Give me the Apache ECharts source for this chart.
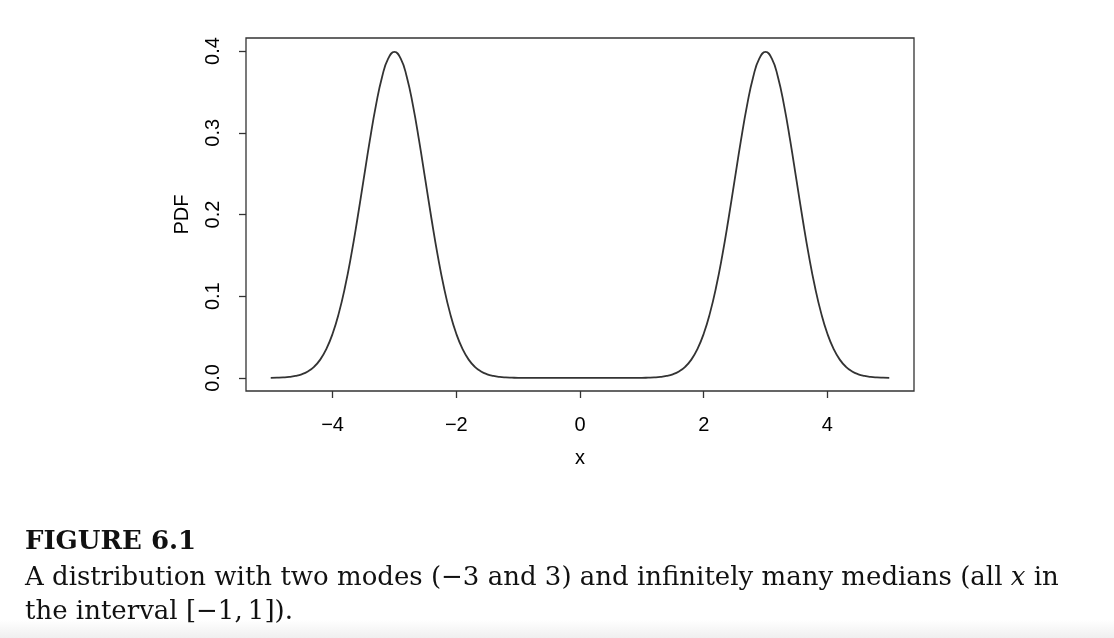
<!DOCTYPE html>
<html>
<head>
<meta charset="utf-8">
<script src="https://cdn.jsdelivr.net/npm/echarts@6/dist/echarts.min.js"></script>
<style>
  html, body { margin: 0; padding: 0; background: #ffffff; }
  #chart { width: 1114px; height: 638px; }
</style>
</head>
<body>
<div id="chart"></div>
<script>
// x positions of the sampled curve
const xValues = [
  -5.0, -4.9, -4.8, -4.7, -4.6, -4.5, -4.4, -4.3, -4.2, -4.1,
  -4.0, -3.9, -3.8, -3.7, -3.6, -3.5, -3.4, -3.3, -3.2, -3.1,
  -3.0, -2.9, -2.8, -2.7, -2.6, -2.5, -2.4, -2.3, -2.2, -2.1,
  -2.0, -1.9, -1.8, -1.7, -1.6, -1.5, -1.4, -1.3, -1.2, -1.1,
  -1.0, -0.5, 0.0, 0.5,
  1.0, 1.1, 1.2, 1.3, 1.4, 1.5, 1.6, 1.7, 1.8, 1.9,
  2.0, 2.1, 2.2, 2.3, 2.4, 2.5, 2.6, 2.7, 2.8, 2.9,
  3.0, 3.1, 3.2, 3.3, 3.4, 3.5, 3.6, 3.7, 3.8, 3.9,
  4.0, 4.1, 4.2, 4.3, 4.4, 4.5, 4.6, 4.7, 4.8, 4.9,
  5.0
];
// PDF values
const pdfValues = [
  0.0001, 0.0003, 0.0006, 0.0012, 0.0024, 0.0044, 0.0079, 0.0136, 0.0224, 0.0355,
  0.0540, 0.0790, 0.1109, 0.1497, 0.1942, 0.2420, 0.2897, 0.3332, 0.3683, 0.3910,
  0.3989, 0.3910, 0.3683, 0.3332, 0.2897, 0.2420, 0.1942, 0.1497, 0.1109, 0.0790,
  0.0540, 0.0355, 0.0224, 0.0136, 0.0079, 0.0044, 0.0024, 0.0012, 0.0006, 0.0003,
  0.0001, 0.0, 0.0, 0.0,
  0.0001, 0.0003, 0.0006, 0.0012, 0.0024, 0.0044, 0.0079, 0.0136, 0.0224, 0.0355,
  0.0540, 0.0790, 0.1109, 0.1497, 0.1942, 0.2420, 0.2897, 0.3332, 0.3683, 0.3910,
  0.3989, 0.3910, 0.3683, 0.3332, 0.2897, 0.2420, 0.1942, 0.1497, 0.1109, 0.0790,
  0.0540, 0.0355, 0.0224, 0.0136, 0.0079, 0.0044, 0.0024, 0.0012, 0.0006, 0.0003,
  0.0001
];
const xTicks = [-4, -2, 0, 2, 4];
const yTicks = [0, 0.1, 0.2, 0.3, 0.4];
const xAxisTitle = 'x';
const yAxisTitle = 'PDF';
const captionTitle = 'FIGURE 6.1';
const captionLine1 = 'A distribution with two modes (\u22123 and 3) and infinitely many medians (all {i|x} in';
const captionLine2 = 'the interval [\u22121,\u20091]).';

const seriesData = xValues.map((x, i) => [x, pdfValues[i]]);

const axisFont = '"Liberation Sans", Arial, Helvetica, sans-serif';
const serifFont = '"DejaVu Serif", "Liberation Serif", serif';
const ink = '#333333';

const chart = echarts.init(document.getElementById('chart'), null, { renderer: 'canvas' });
chart.setOption({
  backgroundColor: '#ffffff',
  animation: false,
  grid: {
    left: 246, top: 38, width: 668, height: 353,
    show: true, borderColor: ink, borderWidth: 1.3, backgroundColor: 'transparent'
  },
  xAxis: {
    type: 'value', min: -5.4, max: 5.4,
    axisLine: { show: false, onZero: false },
    splitLine: { show: false },
    axisTick: { show: true, customValues: xTicks, length: 7, inside: false, lineStyle: { color: ink, width: 1.3 } },
    axisLabel: {
      customValues: xTicks, margin: 24, fontSize: 20, color: '#000', fontFamily: axisFont,
      formatter: v => String(v).replace('-', '\u2212')
    },
    name: xAxisTitle, nameLocation: 'middle', nameGap: 57,
    nameTextStyle: { fontSize: 20, color: '#000', fontFamily: axisFont }
  },
  yAxis: {
    type: 'value', min: -0.016, max: 0.416,
    axisLine: { show: false, onZero: false },
    splitLine: { show: false },
    axisTick: { show: true, customValues: yTicks, length: 7, inside: false, lineStyle: { color: ink, width: 1.3 } },
    axisLabel: {
      customValues: yTicks, rotate: 90, margin: 23, fontSize: 20, color: '#000', fontFamily: axisFont,
      formatter: v => Number(v).toFixed(1)
    },
    name: yAxisTitle, nameLocation: 'middle', nameGap: 54, nameRotate: 90,
    nameTextStyle: { fontSize: 20, color: '#000', fontFamily: axisFont }
  },
  series: [{
    type: 'line',
    data: seriesData,
    smooth: true,
    showSymbol: false,
    symbol: 'none',
    lineStyle: { color: ink, width: 1.8 },
    clip: true
  }],
  graphic: [
    {
      type: 'rect', left: 0, top: 620, z: -10,
      shape: { width: 1114, height: 18 },
      style: {
        fill: {
          type: 'linear', x: 0, y: 0, x2: 0, y2: 1,
          colorStops: [{ offset: 0, color: '#ffffff' }, { offset: 1, color: '#efefef' }]
        }
      }
    },
    {
      type: 'text', left: 25, top: 529,
      style: { text: captionTitle, font: 'bold 26px ' + serifFont, fill: '#111' }
    },
    {
      type: 'text', left: 25, top: 565,
      style: {
        text: captionLine1, font: '26px ' + serifFont, fill: '#111',
        rich: { i: { fontStyle: 'italic', fontSize: 26, fontFamily: serifFont, fill: '#111' } }
      }
    },
    {
      type: 'text', left: 25, top: 599,
      style: { text: captionLine2, font: '26px ' + serifFont, fill: '#111' }
    }
  ]
});
</script>
</body>
</html>
